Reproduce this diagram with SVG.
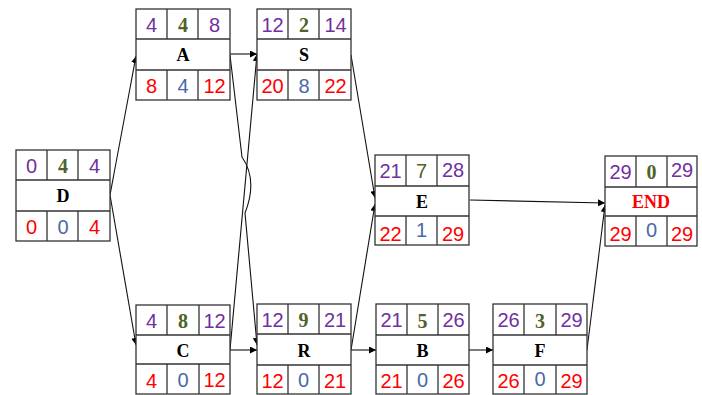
<svg xmlns="http://www.w3.org/2000/svg" width="702" height="395" viewBox="0 0 702 395">
<defs>
<style>
.box{fill:#fff;stroke:#333;stroke-width:1.3}
.ln{stroke:#333;stroke-width:1.3}
.n{font-family:"Liberation Sans",Arial,sans-serif;font-size:20px;text-anchor:middle}
.d{font-family:"Liberation Serif","Times New Roman",serif;font-size:20px;font-weight:bold;text-anchor:middle;fill:#4F6228}
.nm{font-family:"Liberation Serif","Times New Roman",serif;font-size:18px;font-weight:bold;text-anchor:middle;fill:#000}
.p{fill:#7030A0}
.r{fill:#FF0000}
.b{fill:#4A68A8}
.g{fill:#4F6228}
.c{fill:none;stroke:#111;stroke-width:1.1}
</style>
<marker id="ar" viewBox="0 0 10 10" refX="10" refY="5" markerWidth="7" markerHeight="7" orient="auto" markerUnits="userSpaceOnUse">
<path d="M0,0 L10,5 L0,10 z" fill="#000"/>
</marker>
</defs>
<rect width="702" height="395" fill="#fff"/>

<g id="connectors">
<path class="c" d="M110,195 L136,56" marker-end="url(#ar)"/>
<path class="c" d="M110,195 L136,345" marker-end="url(#ar)"/>
<path class="c" d="M230,54 L257,54" marker-end="url(#ar)"/>
<path class="c" d="M230,55 L242,157 Q258,180 245,213 L257,345" marker-end="url(#ar)"/>
<path class="c" d="M230,350 L257,54" marker-end="url(#ar)"/>
<path class="c" d="M230,350 L257,350" marker-end="url(#ar)"/>
<path class="c" d="M351,55 L375,198" marker-end="url(#ar)"/>
<path class="c" d="M351,350 L375,204" marker-end="url(#ar)"/>
<path class="c" d="M351,350 L376,350" marker-end="url(#ar)"/>
<path class="c" d="M469,350 L493,350" marker-end="url(#ar)"/>
<path class="c" d="M470,200 L605,203" marker-end="url(#ar)"/>
<path class="c" d="M587,350 L605,205" marker-end="url(#ar)"/>
</g>

<g id="D">
<rect class="box" x="16" y="150" width="94" height="91"/>
<line class="ln" x1="16" y1="180" x2="110" y2="180"/><line class="ln" x1="16" y1="211" x2="110" y2="211"/>
<line class="ln" x1="47" y1="150" x2="47" y2="180"/><line class="ln" x1="78" y1="150" x2="78" y2="180"/>
<line class="ln" x1="47" y1="211" x2="47" y2="241"/><line class="ln" x1="78" y1="211" x2="78" y2="241"/>
<text class="n p" x="31.5" y="173">0</text><text class="d" x="63" y="173">4</text><text class="n p" x="94.5" y="173">4</text>
<text class="nm" x="63" y="202">D</text>
<text class="n r" x="31.5" y="234">0</text><text class="n b" x="63" y="234">0</text><text class="n r" x="94.5" y="234">4</text>
</g>

<g id="A">
<rect class="box" x="136" y="9" width="94" height="91"/>
<line class="ln" x1="136" y1="39" x2="230" y2="39"/><line class="ln" x1="136" y1="70" x2="230" y2="70"/>
<line class="ln" x1="167" y1="9" x2="167" y2="39"/><line class="ln" x1="198" y1="9" x2="198" y2="39"/>
<line class="ln" x1="167" y1="70" x2="167" y2="100"/><line class="ln" x1="198" y1="70" x2="198" y2="100"/>
<text class="n p" x="151.5" y="32">4</text><text class="d" x="183" y="32">4</text><text class="n p" x="214.5" y="32">8</text>
<text class="nm" x="183" y="61">A</text>
<text class="n r" x="151.5" y="93">8</text><text class="n b" x="183" y="93">4</text><text class="n r" x="214.5" y="93">12</text>
</g>

<g id="S">
<rect class="box" x="257" y="9" width="94" height="91"/>
<line class="ln" x1="257" y1="39" x2="351" y2="39"/><line class="ln" x1="257" y1="70" x2="351" y2="70"/>
<line class="ln" x1="288" y1="9" x2="288" y2="39"/><line class="ln" x1="319" y1="9" x2="319" y2="39"/>
<line class="ln" x1="288" y1="70" x2="288" y2="100"/><line class="ln" x1="319" y1="70" x2="319" y2="100"/>
<text class="n p" x="272.5" y="32">12</text><text class="d" x="304" y="32">2</text><text class="n p" x="335.5" y="32">14</text>
<text class="nm" x="304" y="61">S</text>
<text class="n r" x="272.5" y="93">20</text><text class="n b" x="304" y="93">8</text><text class="n r" x="335.5" y="93">22</text>
</g>

<g id="E">
<rect class="box" x="375" y="155" width="94" height="90"/>
<line class="ln" x1="375" y1="186" x2="469" y2="186"/><line class="ln" x1="375" y1="216" x2="469" y2="216"/>
<line class="ln" x1="406" y1="155" x2="406" y2="186"/><line class="ln" x1="437" y1="155" x2="437" y2="186"/>
<line class="ln" x1="406" y1="216" x2="406" y2="245"/><line class="ln" x1="437" y1="216" x2="437" y2="245"/>
<text class="n p" x="390.5" y="178">21</text><text class="n g" x="421.5" y="178">7</text><text class="n p" x="453" y="177">28</text>
<text class="nm" x="422" y="208">E</text>
<text class="n r" x="390.5" y="241">22</text><text class="n b" x="421.5" y="237">1</text><text class="n r" x="453" y="241">29</text>
</g>

<g id="END">
<rect class="box" x="605" y="156" width="92" height="90"/>
<line class="ln" x1="605" y1="187" x2="697" y2="187"/><line class="ln" x1="605" y1="216" x2="697" y2="216"/>
<line class="ln" x1="636" y1="156" x2="636" y2="187"/><line class="ln" x1="667" y1="156" x2="667" y2="187"/>
<line class="ln" x1="636" y1="216" x2="636" y2="246"/><line class="ln" x1="667" y1="216" x2="667" y2="246"/>
<text class="n p" x="620.5" y="179">29</text><text class="d" x="651.5" y="179">0</text><text class="n p" x="682" y="177">29</text>
<text class="nm" x="651" y="208" style="fill:#FF0000">END</text>
<text class="n r" x="620.5" y="241">29</text><text class="n b" x="651.5" y="237">0</text><text class="n r" x="682" y="241">29</text>
</g>

<g id="C">
<rect class="box" x="136" y="305" width="94" height="89"/>
<line class="ln" x1="136" y1="335" x2="230" y2="335"/><line class="ln" x1="136" y1="364" x2="230" y2="364"/>
<line class="ln" x1="167" y1="305" x2="167" y2="335"/><line class="ln" x1="199" y1="305" x2="199" y2="335"/>
<line class="ln" x1="167" y1="364" x2="167" y2="394"/><line class="ln" x1="199" y1="364" x2="199" y2="394"/>
<text class="n p" x="151.5" y="328">4</text><text class="d" x="183" y="328">8</text><text class="n p" x="214.5" y="328">12</text>
<text class="nm" x="183" y="357">C</text>
<text class="n r" x="151.5" y="388">4</text><text class="n b" x="183" y="387">0</text><text class="n r" x="214.5" y="387">12</text>
</g>

<g id="R">
<rect class="box" x="257" y="304" width="94" height="90"/>
<line class="ln" x1="257" y1="334" x2="351" y2="334"/><line class="ln" x1="257" y1="365" x2="351" y2="365"/>
<line class="ln" x1="288" y1="304" x2="288" y2="334"/><line class="ln" x1="319" y1="304" x2="319" y2="334"/>
<line class="ln" x1="288" y1="365" x2="288" y2="394"/><line class="ln" x1="319" y1="365" x2="319" y2="394"/>
<text class="n p" x="272.5" y="327">12</text><text class="d" x="303.5" y="327">9</text><text class="n p" x="335" y="327">21</text>
<text class="nm" x="304" y="357">R</text>
<text class="n r" x="272.5" y="388">12</text><text class="n b" x="303.5" y="387">0</text><text class="n r" x="335" y="388">21</text>
</g>

<g id="B">
<rect class="box" x="376" y="304" width="93" height="90"/>
<line class="ln" x1="376" y1="335" x2="469" y2="335"/><line class="ln" x1="376" y1="365" x2="469" y2="365"/>
<line class="ln" x1="407" y1="304" x2="407" y2="335"/><line class="ln" x1="438" y1="304" x2="438" y2="335"/>
<line class="ln" x1="407" y1="365" x2="407" y2="394"/><line class="ln" x1="438" y1="365" x2="438" y2="394"/>
<text class="n p" x="391.5" y="327">21</text><text class="d" x="422.5" y="328">5</text><text class="n p" x="453.5" y="327">26</text>
<text class="nm" x="422.5" y="357">B</text>
<text class="n r" x="391.5" y="388">21</text><text class="n b" x="422.5" y="387">0</text><text class="n r" x="453.5" y="388">26</text>
</g>

<g id="F">
<rect class="box" x="493" y="304" width="94" height="90"/>
<line class="ln" x1="493" y1="335" x2="587" y2="335"/><line class="ln" x1="493" y1="365" x2="587" y2="365"/>
<line class="ln" x1="524" y1="304" x2="524" y2="335"/><line class="ln" x1="556" y1="304" x2="556" y2="335"/>
<line class="ln" x1="524" y1="365" x2="524" y2="394"/><line class="ln" x1="556" y1="365" x2="556" y2="394"/>
<text class="n p" x="508.5" y="327">26</text><text class="d" x="540" y="328">3</text><text class="n p" x="571.5" y="327">29</text>
<text class="nm" x="540" y="357">F</text>
<text class="n r" x="508.5" y="388">26</text><text class="n b" x="540" y="386">0</text><text class="n r" x="571.5" y="388">29</text>
</g>
</svg>
